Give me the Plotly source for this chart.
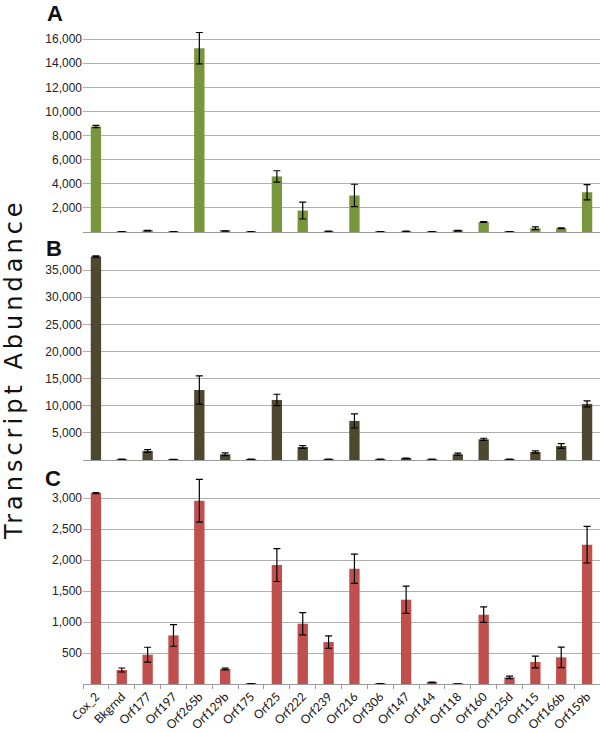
import plotly.graph_objects as go

categories = ["Cox_2", "Bkgrnd", "Orf177", "Orf197", "Orf265b", "Orf129b", "Orf175",
              "Orf25", "Orf222", "Orf239", "Orf216", "Orf306", "Orf147", "Orf144",
              "Orf118", "Orf160", "Orf125d", "Orf115", "Orf166b", "Orf159b"]

a_values = [8750, 20, 110, 30, 15250, 90, 20, 4610, 1780, 60, 3030, 20, 50, 30, 110, 830, 20, 310, 310, 3300]
a_errors = [100, 10, 20, 10, 1300, 15, 10, 470, 700, 15, 930, 10, 15, 10, 30, 40, 10, 120, 30, 630]

b_values = [37500, 150, 1660, 100, 12900, 1050, 150, 11070, 2400, 150, 7200, 150, 300, 150, 1050, 3810, 150, 1480, 2580, 10330]
b_errors = [100, 30, 250, 30, 2600, 250, 30, 1050, 250, 30, 1300, 30, 60, 30, 200, 200, 30, 200, 450, 550]

c_values = [3080, 226, 473, 784, 2957, 242, 5, 1919, 973, 677, 1860, 5, 1360, 26, 3, 1118, 107, 355, 430, 2247]
c_errors = [10, 32, 120, 175, 345, 15, 2, 265, 180, 100, 235, 2, 220, 5, 1, 125, 20, 95, 165, 295]

a_ticks = [2000, 4000, 6000, 8000, 10000, 12000, 14000, 16000, 18000]
a_ticktext = ["2,000", "4,000", "6,000", "8,000", "10,000", "12,000", "14,000", "16,000", ""]
b_ticks = [5000, 10000, 15000, 20000, 25000, 30000, 35000]
b_ticktext = ["5,000", "10,000", "15,000", "20,000", "25,000", "30,000", "35,000"]
c_ticks = [500, 1000, 1500, 2000, 2500, 3000]
c_ticktext = ["500", "1,000", "1,500", "2,000", "2,500", "3,000"]

colors = ["#78963C", "#4E4830", "#C0504D"]
panel_labels = ["A", "B", "C"]
y_title = "Transcript Abundance"

fig = go.Figure()
series = [(a_values, a_errors), (b_values, b_errors), (c_values, c_errors)]
for i, (vals, errs) in enumerate(series):
    suffix = "" if i == 0 else str(i + 1)
    fig.add_trace(go.Bar(
        x=categories, y=vals,
        marker=dict(color=colors[i], line=dict(width=0)),
        error_y=dict(type="data", array=errs, visible=True, color="black",
                     thickness=1.2, width=3.5),
        xaxis="x" + suffix, yaxis="y" + suffix, showlegend=False,
    ))

grid = "#b0b0b0"
tickfont = dict(family="Liberation Sans, Arial, sans-serif", size=12, color="#222")

def xax(anchor, show):
    d = dict(domain=[0, 1], anchor=anchor, type="category", showline=True,
             linecolor="#9a9a9a", linewidth=1, showgrid=False, zeroline=False,
             fixedrange=True)
    if show:
        d.update(showticklabels=True, ticks="outside", tickson="boundaries",
                 ticklen=4, tickcolor="#9a9a9a", tickangle=-45,
                 tickfont=dict(family="Lato, sans-serif", size=12, color="#111"))
    else:
        d.update(showticklabels=False, ticks="")
    return d

def yax(anchor, dom, rng, tv, tt):
    return dict(domain=dom, anchor=anchor, range=rng, tickvals=tv, ticktext=tt,
                showgrid=True, gridcolor=grid, gridwidth=1, showline=False,
                zeroline=False, ticks="", tickfont=tickfont, fixedrange=True)

H_TOP, H_BOT = 15, 684
plot_h = H_BOT - H_TOP
def py(px):
    return (H_BOT - px) / plot_h

fig.update_layout(
    width=600, height=732,
    margin=dict(l=83, r=0, t=H_TOP, b=732 - H_BOT, autoexpand=False),
    paper_bgcolor="white", plot_bgcolor="white",
    bargap=0.6,
    xaxis=xax("y", False),
    xaxis2=xax("y2", False),
    xaxis3=xax("y3", True),
    yaxis=yax("x", [py(232), 1.0], [0, 18000], a_ticks, a_ticktext),
    yaxis2=yax("x2", [py(460), py(250)], [0, 38700], b_ticks, b_ticktext),
    yaxis3=yax("x3", [0, py(477)], [0, 3340], c_ticks, c_ticktext),
)

label_pos = [(55, 14), (54, 248), (53, 478)]
for lab, (lx, ly) in zip(panel_labels, label_pos):
    fig.add_annotation(text="<b>" + lab + "</b>", x=(lx - 83) / 517, y=py(ly),
                       xref="paper", yref="paper", xanchor="center", yanchor="middle",
                       showarrow=False,
                       font=dict(family="Liberation Sans, Arial, sans-serif", size=22, color="#111"))

fig.add_annotation(text='<span style="letter-spacing:4px">' + y_title + '</span>',
                   x=(14 - 83) / 517, y=py(369), xref="paper", yref="paper",
                   xanchor="center", yanchor="middle", textangle=-90, showarrow=False,
                   font=dict(family="DejaVu Sans, sans-serif", size=24, color="#111"))

fig.write_html("out.html", config={"displayModeBar": False},
               post_script="document.body.style.margin='0';document.body.style.overflow='hidden';")
